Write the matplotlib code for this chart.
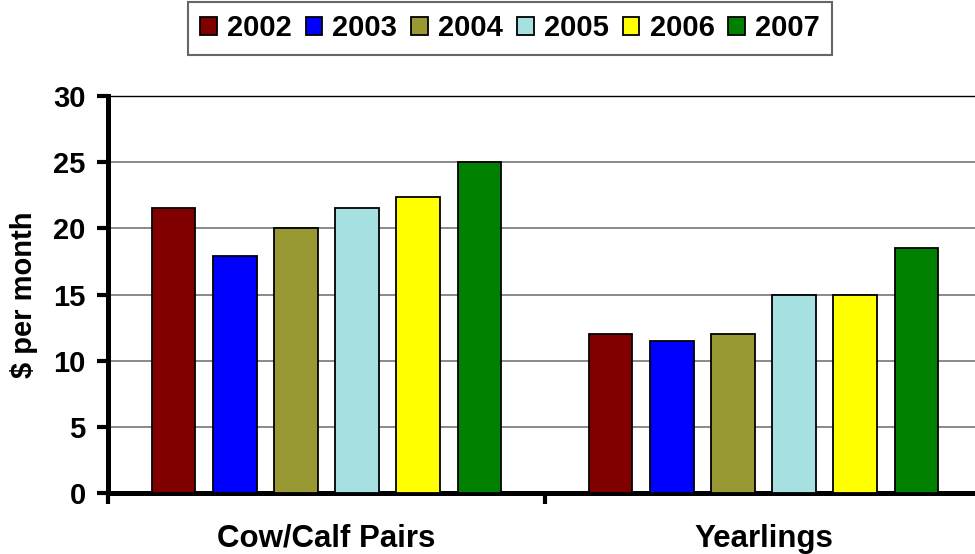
import matplotlib
matplotlib.use("Agg")
import matplotlib.pyplot as plt
import numpy as np

categories = ["Cow/Calf Pairs", "Yearlings"]
years = ["2002", "2003", "2004", "2005", "2006", "2007"]
values_2002 = [21.5, 12.0]
values_2003 = [17.9, 11.5]
values_2004 = [20.0, 12.0]
values_2005 = [21.5, 15.0]
values_2006 = [22.4, 15.0]
values_2007 = [25.0, 18.5]
series = [values_2002, values_2003, values_2004, values_2005, values_2006, values_2007]
colors = ["#800000", "#0000FF", "#999933", "#A6E0E0", "#FFFF00", "#008000"]
yticks = [0, 5, 10, 15, 20, 25, 30]

plt.rcParams['font.family'] = ['Liberation Sans', 'DejaVu Sans']
plt.rcParams['font.weight'] = 'bold'

fig = plt.figure(figsize=(9.75, 5.54), dpi=100)
ax = fig.add_axes([108/975, 61/554, 874/975, 397/554])

x = np.arange(len(categories))
width = 0.1
pitch = 0.14
for i, (vals, c, yr) in enumerate(zip(series, colors, years)):
    ax.bar(x + (i - 2.5) * pitch, vals, width, color=c, edgecolor='black',
           linewidth=1.3, label=yr, zorder=3)

ax.set_xlim(-0.5, 1.5)
ax.set_ylim(0, 30)
ax.set_yticks(yticks)
ax.set_yticklabels([str(t) for t in yticks], fontsize=21, fontweight='bold')
ax.yaxis.grid(True, color='#808080', linewidth=1.3, zorder=0)
ax.set_axisbelow(True)

ax.set_xticks([-0.5, 0.5, 1.5])
ax.set_xticklabels(['', '', ''])
ax.set_xticks(x, minor=True)
ax.set_xticklabels(categories, minor=True, fontsize=22.5, fontweight='bold')
ax.tick_params(axis='x', which='minor', length=0, pad=22)
ax.tick_params(axis='x', which='major', direction='out', length=8, width=3)
ax.tick_params(axis='y', direction='out', length=8, width=3, pad=8)

for s in ['left', 'bottom']:
    ax.spines[s].set_linewidth(3.6)
    ax.spines[s].set_color('black')
ax.spines['top'].set_linewidth(1.0)
ax.spines['top'].set_color('black')
ax.spines['right'].set_visible(False)

ax.set_ylabel('$ per month', fontsize=21, fontweight='bold', labelpad=11)

leg = fig.legend(loc='upper center', bbox_to_anchor=(510/975, 1 - 2/554), ncol=6,
                 frameon=True, fancybox=False, edgecolor='#404040',
                 handlelength=0.57, handleheight=0.57, handletextpad=0.35,
                 columnspacing=0.48, borderpad=0.42, borderaxespad=0,
                 prop={'weight': 'bold', 'size': 21})
leg.get_frame().set_linewidth(1.5)

fig.savefig('out.png', dpi=100)
